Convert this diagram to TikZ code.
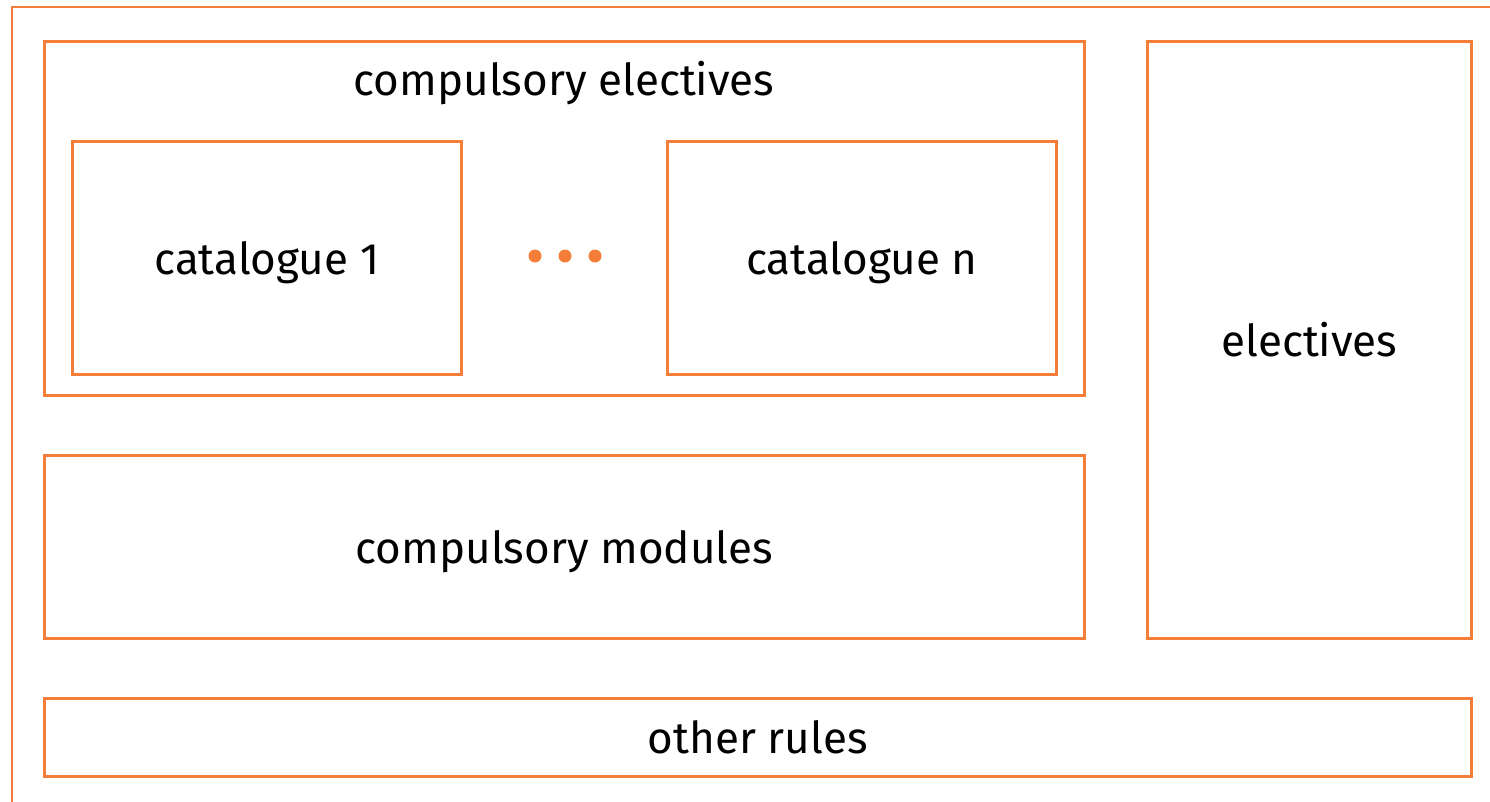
\documentclass[tikz,border=0pt]{standalone}
\usepackage{fontspec}
\setmainfont{Fira Sans}
\usetikzlibrary{positioning}
\definecolor{orng}{HTML}{F47D3A}

\begin{document}
\begin{tikzpicture}[x=1pt,y=-1pt]
\tikzset{box/.style={draw=orng, line width=2.6pt, inner sep=0pt, anchor=north west, text depth=0pt, font=\fontsize{44}{50}\selectfont}}
\tikzset{lbl/.style={inner sep=0pt, text depth=0pt, font=\fontsize{44}{50}\selectfont}}
\clip (0,0) rectangle (1490,801);
% outer frame, runs off the page
\draw[orng, line width=2.6pt] (12,830) |- (1530,7);
% compulsory electives
\node[box, minimum width=1040pt, minimum height=354pt] (ce) at (43,40) {};
\node[lbl] (cet) at (564,78) {compulsory electives};
\node[box, minimum width=389pt, minimum height=233pt] (cat1) at (71,140) {catalogue 1};
\node[box, minimum width=389pt, minimum height=233pt] (catn) at (666,140) {catalogue n};
\foreach \x in {535,565,595}
  \fill[orng] (\x,256) circle (6.5pt);
% the rest
\node[box, minimum width=1040pt, minimum height=183pt] (cm) at (43,454) {compulsory modules};
\node[box, minimum width=324pt, minimum height=597pt] (el) at (1146,40) {electives};
\node[box, minimum width=1427pt, minimum height=78pt] (or) at (43,697) {other rules};
\end{tikzpicture}
\end{document}
